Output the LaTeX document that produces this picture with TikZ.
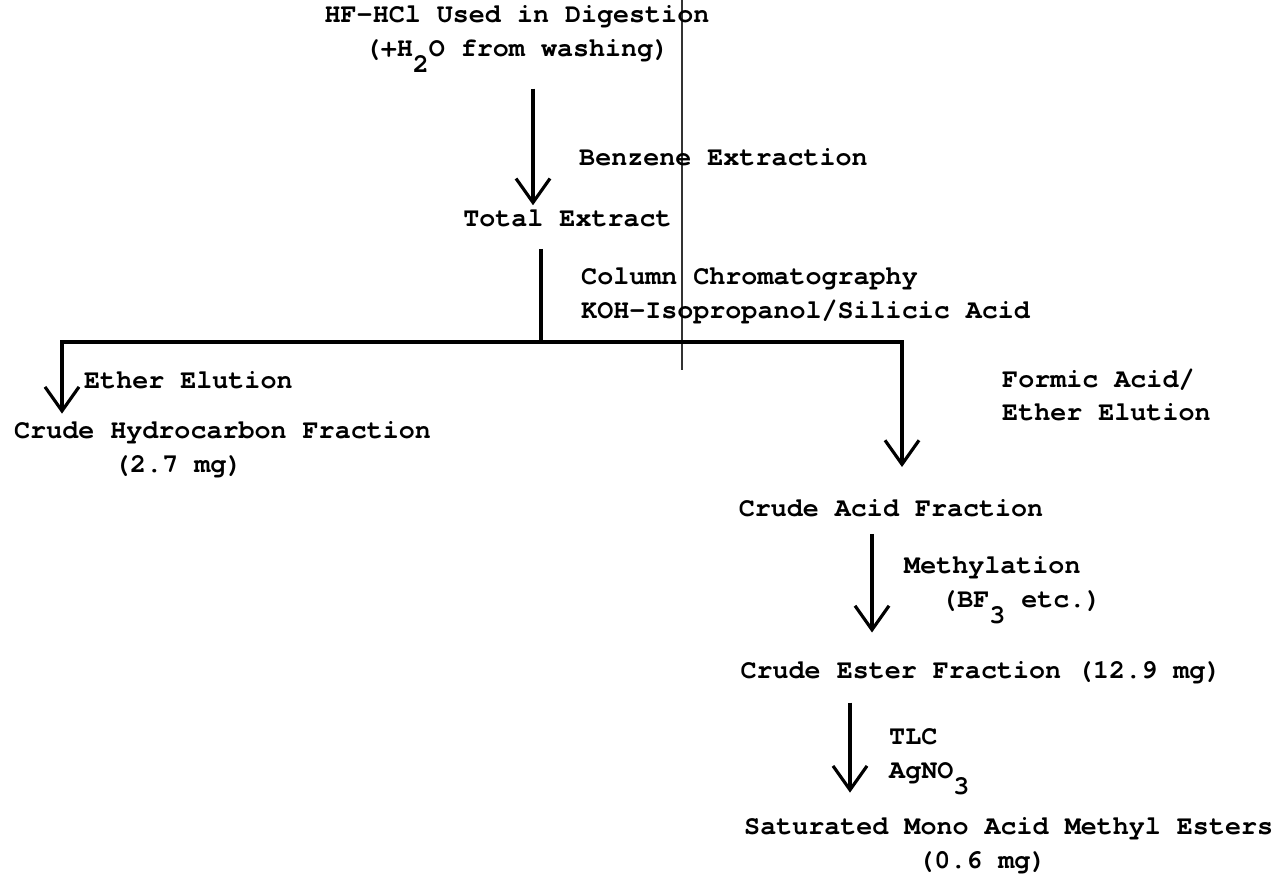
\documentclass[tikz,border=0pt]{standalone}
\usepackage{fontspec}
\setmonofont{TeX Gyre Cursor}
\usetikzlibrary{arrows.meta,positioning,calc}

% typewriter subscripts sit a half line down, full size
\newcommand{\tsub}[1]{\raisebox{-0.6em}{#1}}

\tikzset{
    typed/.style={font=\fontsize{7.6}{9.6}\selectfont\ttfamily\bfseries, inner sep=1pt},
    stage/.style={typed, align=center},
    note/.style={typed, align=left, anchor=west},
    flow/.style={-{Straight Barb[length=2.4mm,width=3.4mm]}, line width=0.9pt},
    feed/.style={line width=0.9pt}
}

\begin{document}
\begin{tikzpicture}
\useasboundingbox (0,0) rectangle (12.88,-8.84);

% crease running down the sheet
\draw[line width=0.5pt, black!80] (6.82,0) -- (6.82,-3.70);

% Products of each step
\node[stage] (digest) at (5.17,-0.39) {HF-HCl Used in Digestion\\(+H\tsub{2}O from washing)};
\node[stage] (total) at (5.675,-2.18) {Total Extract};
\node[note] (hydro) at (0.10,-4.50) {Crude Hydrocarbon Fraction\\\hspace*{1.0cm}(2.7 mg)};
\node[stage] (acid) at (8.91,-5.08) {Crude Acid Fraction};
\node[stage] (ester) at (9.81,-6.73) {Crude Ester Fraction (12.9 mg)};
\node[note] (sat) at (7.40,-8.46) {Saturated Mono Acid Methyl Esters\\\hspace*{1.74cm}(0.6 mg)};

% Treatments
\node[note] (benzene) at (5.75,-1.57) {Benzene Extraction};
\node[note] (column) at (5.77,-2.96) {Column Chromatography\\KOH-Isopropanol/Silicic Acid};
\node[note] (ether) at (0.80,-3.80) {Ether Elution};
\node[note] (formic) at (9.98,-3.95) {Formic Acid/\\Ether Elution};
\node[note] (methyl) at (9.00,-5.90) {Methylation\\\hspace*{3.7mm}(BF\tsub{3} etc.)};
\node[note] (tlc) at (8.85,-7.62) {TLC\\AgNO\tsub{3}};

% branch points of the column
\coordinate (split) at (5.41,-3.42);
\coordinate (hcTurn) at (0.62,-3.42);
\coordinate (acTurn) at (9.02,-3.42);

% Arrows
\draw[flow, shorten <=1.2mm] ([xshift=1.6mm]digest.south) -- ([xshift=1.6mm]digest.south |- total.north);
\draw[feed, shorten <=1.8mm] (total.south -| split) -- (split);
\draw[flow, shorten >=0.4mm] (split) -- (hcTurn) -- (hcTurn |- hydro.north);
\draw[flow, shorten >=2.8mm] (split) -- (acTurn) -- (acTurn |- acid.north);
\draw[flow, shorten <=1.3mm, shorten >=2.5mm] ([xshift=-1.9mm]acid.south) -- ([xshift=-1.9mm]acid.south |- ester.north);
\draw[flow, shorten <=1.4mm, shorten >=2.1mm] ([xshift=-13.1mm]ester.south) -- ([xshift=-13.1mm]ester.south |- sat.north);
\end{tikzpicture}
\end{document}
